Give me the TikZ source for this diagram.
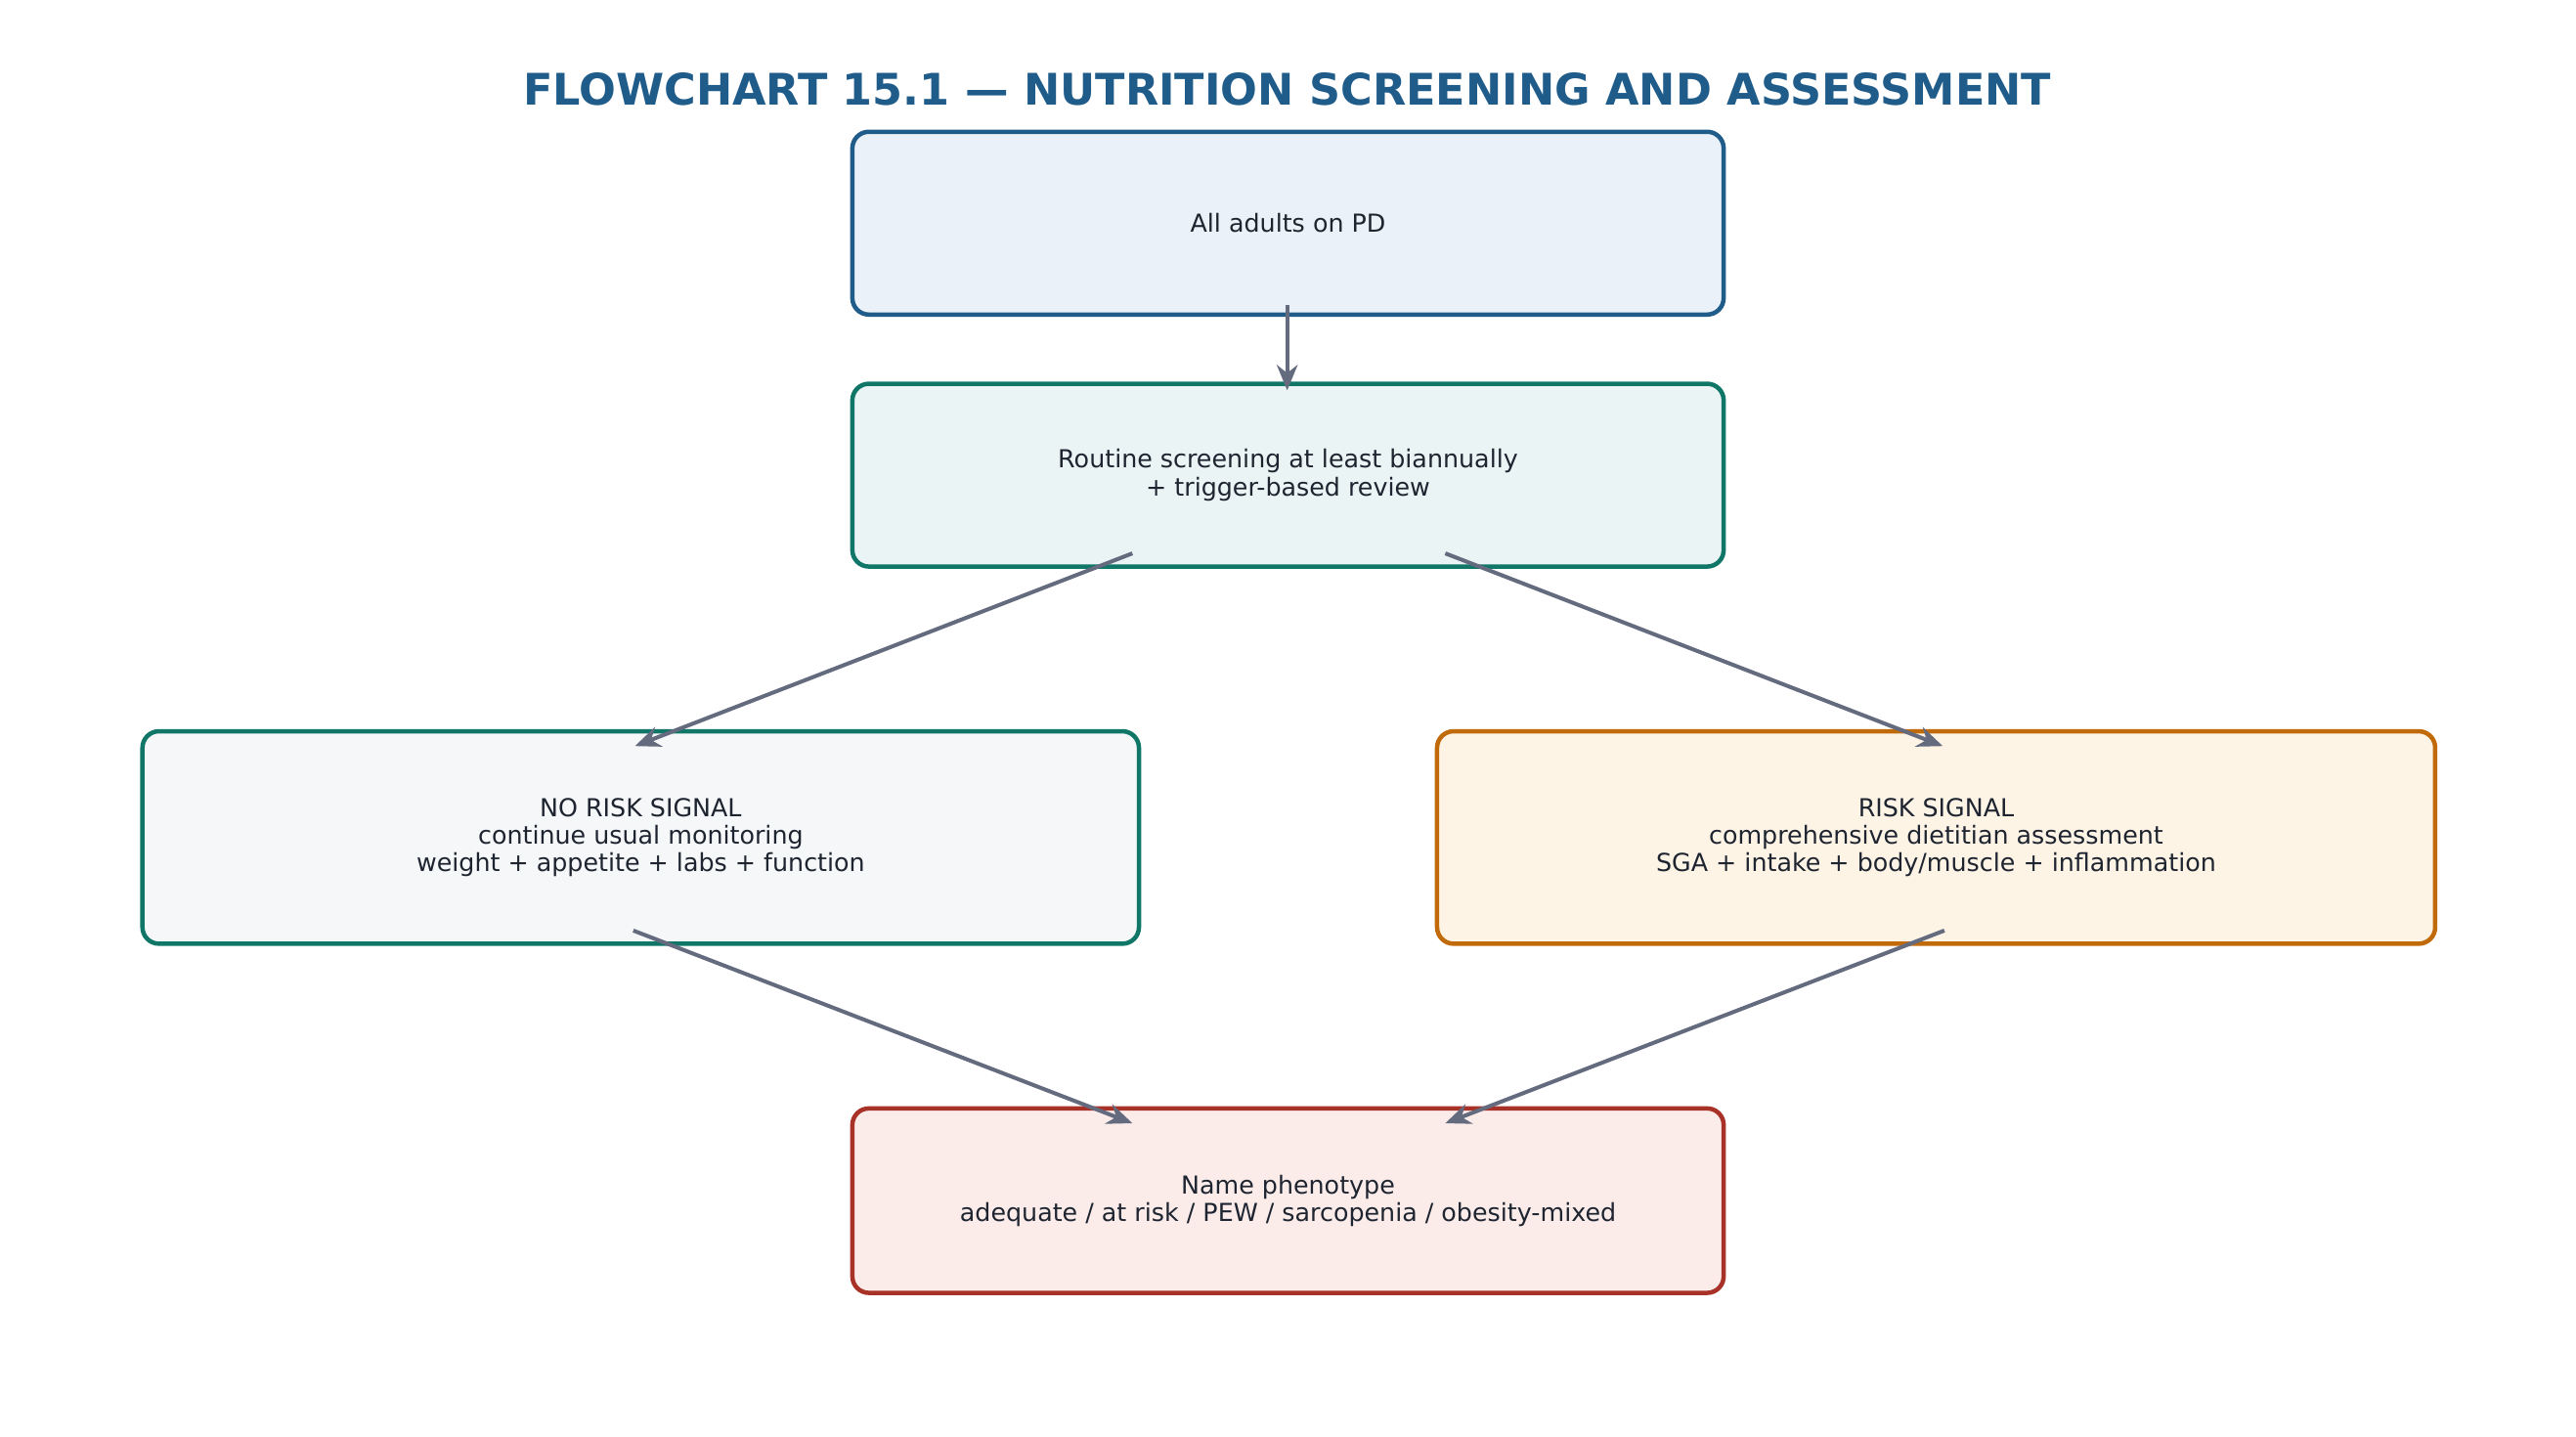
\documentclass[tikz,border=0pt]{standalone}
\usepackage{fontspec}
\setmainfont{DejaVu Sans}
\usetikzlibrary{arrows.meta}
\definecolor{tblue}{HTML}{1F5C8A}
\definecolor{tteal}{HTML}{0F7668}
\definecolor{torange}{HTML}{C06A0A}
\definecolor{tred}{HTML}{A83228}
\definecolor{tarrow}{HTML}{646B7E}
\definecolor{ttext}{HTML}{1E2530}
\definecolor{fblue}{HTML}{EAF1F8}
\definecolor{fteal}{HTML}{EAF4F4}
\definecolor{fgrey}{HTML}{F5F7F9}
\definecolor{forange}{HTML}{FEF4E6}
\definecolor{fred}{HTML}{FBECEA}
\begin{document}
\begin{tikzpicture}[x=0.05cm,y=-0.05cm,
  box/.style={draw, line width=3.8pt, rounded corners=0.5cm, align=center, text=ttext,
    font=\fontsize{21.4}{24}\selectfont, inner sep=0pt},
  arr/.style={draw=tarrow, line width=3.4pt, -{Stealth[length=22pt,width=18pt]}}]
\useasboundingbox (1.5,0) rectangle (1565.5,872);
\node[font=\bfseries\fontsize{37.6}{40}\selectfont, text=tblue] (title) at (783,54) {FLOWCHART 15.1 — NUTRITION SCREENING AND ASSESSMENT};
\node[box, draw=tblue, fill=fblue, minimum width=529*0.05cm, minimum height=111*0.05cm] (a) at (783.5,135.5) {All adults on PD};
\node[box, draw=tteal, fill=fteal, minimum width=529*0.05cm, minimum height=111*0.05cm] (b) at (783.5,288.5) {Routine screening at least biannually\\+ trigger-based review};
\node[box, draw=tteal, fill=fgrey, minimum width=605*0.05cm, minimum height=129*0.05cm] (c) at (390.5,508.5) {NO RISK SIGNAL\\continue usual monitoring\\weight + appetite + labs + function};
\node[box, draw=torange, fill=forange, minimum width=606*0.05cm, minimum height=129*0.05cm] (d) at (1177,508.5) {RISK SIGNAL\\comprehensive dietitian assessment\\SGA + intake + body/muscle + inflammation};
\node[box, draw=tred, fill=fred, minimum width=529*0.05cm, minimum height=112*0.05cm] (e) at (783.5,729) {Name phenotype\\adequate / at risk / PEW / sarcopenia / obesity-mixed};
\coordinate (a1) at (783,185); \coordinate (b0) at (783,237);
\coordinate (b1) at (689,336); \coordinate (b2) at (879,336);
\coordinate (c0) at (387,453); \coordinate (d0) at (1181,453);
\coordinate (c1) at (386,565); \coordinate (d1) at (1182,565);
\coordinate (e0) at (689,682); \coordinate (e1) at (879,682);
\draw[arr] (a1) -- (b0);
\draw[arr] (b1) -- (c0);
\draw[arr] (b2) -- (d0);
\draw[arr] (c1) -- (e0);
\draw[arr] (d1) -- (e1);
\end{tikzpicture}
\end{document}
